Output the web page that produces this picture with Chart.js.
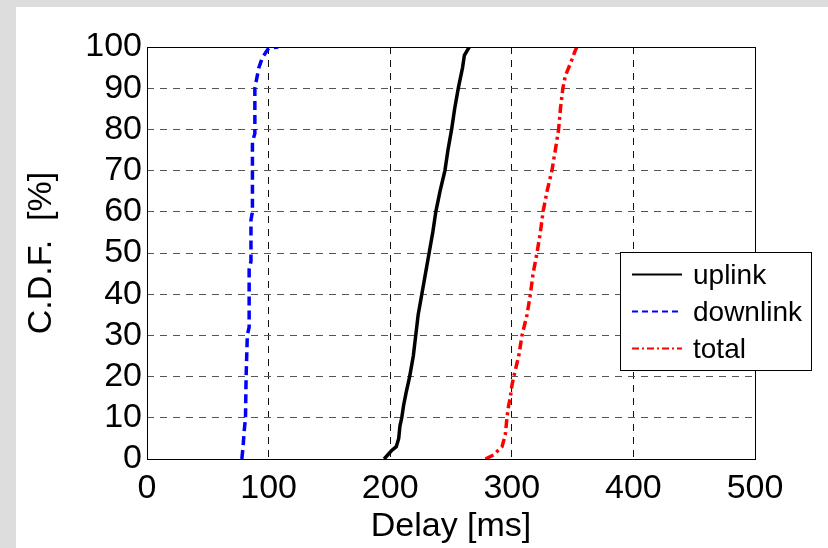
<!DOCTYPE html>
<html>
<head>
<meta charset="utf-8">
<script src="https://cdn.jsdelivr.net/npm/chart.js@4.4.1/dist/chart.umd.min.js"></script>
<style>
  html, body { margin: 0; padding: 0; background: #dcdddc; overflow: hidden; }
  #frame { position: absolute; left: 16px; top: 7px; width: 812px; height: 541px; background: #fff; }
</style>
</head>
<body>
<div id="frame"><canvas id="cdf"></canvas></div>
<script>
// CDF level [%] and the delay [ms] at that level
const uplinkCdf     = [0, 2, 3, 5, 8, 10, 13, 16, 20, 25, 30, 35, 40, 45, 50, 55, 60, 65, 70, 75, 80, 85, 90, 95, 98, 100];
const uplinkDelay   = [195, 201, 205, 207, 208, 209.5, 211, 213, 216, 219, 221, 223, 226, 229, 232, 235, 237.5, 241, 245, 247.5, 250.5, 253, 256, 259.5, 261, 265];

const downlinkCdf   = [0, 3, 7, 10, 20, 30, 32, 46, 48, 58, 60, 77, 79, 90, 92, 95, 97.5, 99.7, 100];
const downlinkDelay = [78, 79, 80, 81, 81.5, 82.5, 84, 84, 85.5, 85.5, 86.7, 86.7, 88.7, 88.7, 90, 92, 95, 100, 108];

const totalCdf      = [0, 1, 3, 6, 10, 13, 15, 18, 20, 25, 30, 35, 40, 45, 50, 55, 60, 65, 70, 75, 80, 85, 90, 93, 95, 97, 99, 100];
const totalDelay    = [278.3, 285, 292, 294.7, 296, 297.4, 298.8, 300.2, 301.6, 305.7, 308.4, 312.5, 315.3, 317.5, 320.7, 323.5, 325.7, 329, 333, 335.8, 338.5, 340, 342, 344, 346.8, 349.5, 352, 353.5];

const xTicks = [0, 100, 200, 300, 400, 500];
const yTicks = [0, 10, 20, 30, 40, 50, 60, 70, 80, 90, 100];

const FONT = "'Liberation Sans', Arial, Helvetica, sans-serif";
Chart.defaults.font.family = FONT;
Chart.defaults.color = '#000';

const toPoints = (xs, ys) => xs.map((x, i) => ({ x: x, y: ys[i] }));

// box round the axes, like matlab's "box on"
const axesBox = {
  id: 'axesBox',
  afterDatasetsDraw(chart) {
    const { ctx, chartArea: a } = chart;
    ctx.save();
    ctx.strokeStyle = '#000';
    ctx.lineWidth = 1;
    ctx.setLineDash([]);
    ctx.strokeRect(Math.round(a.left) + 0.5, Math.round(a.top) + 0.5,
      Math.round(a.right - a.left), Math.round(a.bottom - a.top));
    ctx.restore();
  }
};

// legend box sitting inside the plot, overhanging the right edge
const insideLegend = {
  id: 'insideLegend',
  afterDraw(chart) {
    const ctx = chart.ctx;
    const left = 604, top = 245, w = 191, h = 118;
    const rows = [267.5, 304.5, 341.5];
    const dashes = [[], [6, 4], [7, 3, 2, 3]];
    ctx.save();
    ctx.fillStyle = '#fff';
    ctx.fillRect(left, top, w, h);
    ctx.strokeStyle = '#000';
    ctx.lineWidth = 1;
    ctx.strokeRect(left + 0.5, top + 0.5, w, h);
    chart.data.datasets.forEach((ds, i) => {
      ctx.beginPath();
      ctx.setLineDash(dashes[i]);
      ctx.strokeStyle = ds.borderColor;
      ctx.lineWidth = 2;
      ctx.moveTo(616, rows[i]);
      ctx.lineTo(666, rows[i]);
      ctx.stroke();
      ctx.setLineDash([]);
      ctx.fillStyle = '#000';
      ctx.font = '28px ' + FONT;
      ctx.textBaseline = 'middle';
      ctx.fillText(ds.label, 677, rows[i] + 2);
    });
    ctx.restore();
  }
};

new Chart(document.getElementById('cdf'), {
  type: 'line',
  data: {
    datasets: [
      {
        label: 'uplink',
        data: toPoints(uplinkDelay, uplinkCdf),
        borderColor: '#000000',
        borderWidth: 3.5
      },
      {
        label: 'downlink',
        data: toPoints(downlinkDelay, downlinkCdf),
        borderColor: '#0000ff',
        borderWidth: 3.5,
        borderDash: [9, 5]
      },
      {
        label: 'total',
        data: toPoints(totalDelay, totalCdf),
        borderColor: '#ff0000',
        borderWidth: 3.5,
        borderDash: [9, 4, 3, 4]
      }
    ]
  },
  options: {
    responsive: true,
    maintainAspectRatio: false,
    animation: false,
    layout: { padding: { top: 40, right: 73, left: 0, bottom: 0 } },
    elements: { point: { radius: 0 }, line: { tension: 0 } },
    plugins: { legend: { display: false }, tooltip: { enabled: false } },
    scales: {
      x: {
        type: 'linear',
        min: 0,
        max: 500,
        afterBuildTicks: s => { s.ticks = xTicks.map(v => ({ value: v })); },
        afterFit: s => { s.height = 89; },
        ticks: { font: { size: 34 }, padding: 9, maxRotation: 0, autoSkip: false },
        grid: { color: '#111', lineWidth: 1, drawTicks: false },
        border: { display: false, dash: [7, 6] },
        title: { display: true, text: 'Delay [ms]', font: { size: 34 }, padding: { top: 0, bottom: 1 } }
      },
      y: {
        min: 0,
        max: 100,
        afterBuildTicks: s => { s.ticks = yTicks.map(v => ({ value: v })); },
        afterFit: s => { s.width = 131; },
        ticks: { font: { size: 34 }, padding: 5, autoSkip: false },
        grid: { color: '#555', lineWidth: 1, drawTicks: false },
        border: { display: false, dash: [7, 6] },
        title: { display: true, text: 'C.D.F.  [%]', font: { size: 34 }, padding: { top: 5, bottom: 0 } }
      }
    }
  },
  plugins: [axesBox, insideLegend]
});
</script>
</body>
</html>
